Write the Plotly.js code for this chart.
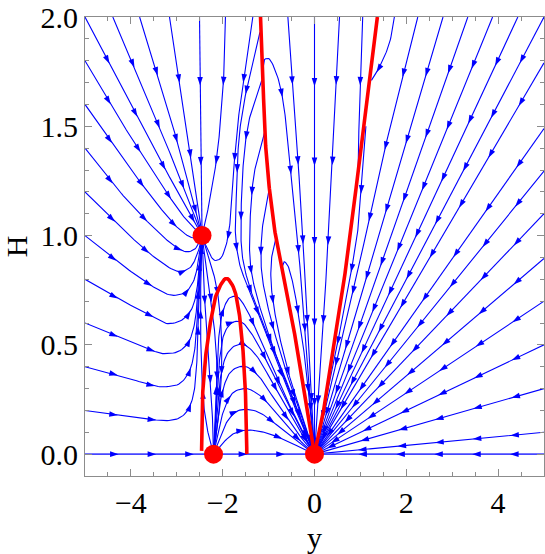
<!DOCTYPE html>
<html><head><meta charset="utf-8">
<script src="https://cdn.plot.ly/plotly-3.0.1.min.js"></script>
<style>html,body{margin:0;padding:0;background:#fff}</style>
</head><body><div id="chart" style="width:545px;height:554px"></div>
<script>
// ---------- axis setup ----------
const xRange = [-5, 5];
const yRange = [-0.1, 2];

// ---------- red curves (y, H) ----------
const redLeft = [[0,0],[-0.16,0.215],[-0.35,0.458],[-0.577,0.70],[-0.805,0.943],[-0.97,1.19],[-1.07,1.43],[-1.13,1.753],[-1.176,2.0]];
const redRight = [[0,0],[0.142,0.134],[0.331,0.377],[0.634,0.781],[0.937,1.268],[1.203,1.705],[1.37,2.0]];
const redArch = [[-2.46,0.015],[-2.455,0.15],[-2.43,0.3],[-2.37,0.45],[-2.27,0.6],[-2.12,0.74],[-1.92,0.804],[-1.77,0.765],[-1.66,0.67],[-1.56,0.48],[-1.5,0.26],[-1.48,0.1],[-1.475,0.0]];
const fixedY = [-2.45, -2.2, 0];
const fixedH = [1.0, 0.0, 0.0];

// ---------- streamlines (in flow direction) ----------
const leftLines = [
 [[-5,2],[-4.285,1.714],[-3.486,1.394],[-2.9,1.17],[-2.45,1.0]],
 [[-5,1.8],[-4.285,1.546],[-3.45,1.272],[-2.9,1.1],[-2.6,1.03],[-2.45,1.0]],
 [[-5,1.6],[-4.285,1.386],[-3.45,1.15],[-2.95,1.03],[-2.65,0.99],[-2.45,1.0]],
 [[-5,1.4],[-4.285,1.211],[-3.45,1.025],[-3.0,0.945],[-2.77,0.926],[-2.6,0.94],[-2.45,1.0]],
 [[-5,1.2],[-4.285,1.051],[-3.45,0.895],[-2.96,0.836],[-2.72,0.852],[-2.58,0.9],[-2.49,0.96],[-2.45,1.0]],
 [[-5,1.0],[-4.285,0.88],[-3.45,0.758],[-3.11,0.727],[-2.82,0.74],[-2.64,0.79],[-2.54,0.87],[-2.45,1.0]],
 [[-5,0.8],[-4.285,0.712],[-3.45,0.621],[-3.23,0.598],[-2.92,0.61],[-2.7,0.655],[-2.58,0.73],[-2.52,0.85],[-2.45,1.0]],
 [[-5,0.6],[-4.285,0.537],[-3.45,0.468],[-3.31,0.46],[-2.96,0.47],[-2.74,0.515],[-2.61,0.6],[-2.55,0.72],[-2.5,0.87],[-2.45,1.0]],
 [[-5,0.4],[-4.285,0.361],[-3.45,0.311],[-3.3,0.308],[-2.96,0.32],[-2.76,0.365],[-2.64,0.44],[-2.57,0.57],[-2.53,0.75],[-2.48,0.9],[-2.45,1.0]],
 [[-5,0.2],[-4.285,0.178],[-3.45,0.156],[-3.25,0.153],[-2.97,0.163],[-2.78,0.195],[-2.65,0.26],[-2.58,0.37],[-2.54,0.55],[-2.51,0.75],[-2.47,0.9],[-2.45,1.0]]
];
const topLines = [
 [[-4.394,2],[-3.704,1.66],[-3.0,1.3],[-2.45,1.0]],
 [[-3.81,2],[-3.159,1.554],[-2.75,1.24],[-2.45,1.0]],
 [[-3.159,2],[-2.686,1.348],[-2.5,1.08],[-2.45,1.0]],
 [[-2.505,2],[-2.47,1.2],[-2.45,1.0]],
 [[-1.94,2],[-1.965,1.775],[-2.107,1.394],[-2.216,1.241],[-2.36,1.08],[-2.45,1.0]],
 [[-1.344,2],[-1.5,1.78],[-1.65,1.55],[-1.743,1.348],[-1.8,1.15],[-1.88,1.0],[-1.96,0.933],[-2.05,0.895],[-2.18,0.887],[-2.325,0.935],[-2.45,1.0]]
];
const archLines = [
 [[-2.45,1.0],[-2.35,0.85],[-2.22,0.65],[-2.13,0.42],[-2.15,0.17],[-2.2,0]],
 [[-2.45,1.0],[-2.3,0.9],[-2.12,0.75],[-2.02,0.5],[-2.07,0.22],[-2.2,0]],
 [[-2.45,1.0],[-2.42,0.8],[-2.32,0.5],[-2.23,0.2],[-2.2,0]],
 [[-2.2,0],[-2.28,0.06],[-2.4,0.2],[-2.47,0.45],[-2.48,0.75],[-2.45,1.0]]
];
const humpLines = [
 [[-2.2,0],[-2.15,0.25],[-2.1,0.5],[-2.0,0.65],[-1.85,0.715],[-1.69,0.72],[-1.5,0.67],[-1.2,0.53],[-0.8,0.34],[-0.35,0.14],[0,0]],
 [[-2.2,0],[-2.14,0.22],[-2.07,0.43],[-1.95,0.56],[-1.78,0.603],[-1.6,0.605],[-1.4,0.56],[-1.05,0.43],[-0.6,0.24],[-0.25,0.09],[0,0]],
 [[-2.2,0],[-2.13,0.18],[-2.04,0.36],[-1.9,0.46],[-1.72,0.497],[-1.53,0.5],[-1.3,0.46],[-0.95,0.34],[-0.5,0.17],[0,0]],
 [[-2.2,0],[-2.12,0.14],[-2.0,0.29],[-1.85,0.37],[-1.67,0.398],[-1.49,0.4],[-1.25,0.365],[-0.9,0.26],[-0.45,0.12],[0,0]],
 [[-2.2,0],[-2.1,0.1],[-1.96,0.21],[-1.78,0.28],[-1.6,0.298],[-1.475,0.3],[-1.2,0.27],[-0.8,0.18],[-0.4,0.08],[0,0]],
 [[-2.2,0],[-2.07,0.07],[-1.9,0.15],[-1.7,0.195],[-1.475,0.205],[-1.2,0.19],[-0.8,0.13],[-0.4,0.06],[0,0]],
 [[-2.2,0],[-2.0,0.05],[-1.75,0.095],[-1.475,0.11],[-1.1,0.1],[-0.7,0.07],[-0.3,0.03],[0,0]]
];
const dLines = [
 [[-1.19,1.93],[-1.45,1.7],[-1.634,1.47],[-1.7,1.2],[-1.72,1.0],[-1.62,0.86],[-1.4,0.74],[-1.0,0.52],[-0.5,0.25],[0,0]],
 [[-1.15,1.71],[-1.4,1.55],[-1.525,1.39],[-1.6,1.1],[-1.58,0.92],[-1.45,0.79],[-1.05,0.56],[-0.52,0.285],[0,0]],
 [[-1.09,1.47],[-1.26,1.34],[-1.344,1.24],[-1.416,0.97],[-1.38,0.84],[-1.2,0.68],[-0.75,0.4],[-0.35,0.19],[0,0]],
 [[-0.99,1.21],[-1.1,1.09],[-1.161,0.97],[-1.15,0.83],[-1.0,0.66],[-0.62,0.38],[-0.26,0.16],[0,0]],
 [[-0.84,0.99],[-0.92,0.92],[-0.95,0.8],[-0.85,0.63],[-0.55,0.36],[-0.22,0.145],[0,0]]
];
const centreLines = [
 [[-1.125,1.76],[-1.09,1.805],[-1.0,1.81],[-0.834,1.744],[-0.69,1.623],[-0.545,1.348],[-0.364,0.97],[-0.2,0.55],[-0.07,0.18],[0,0]],
 [[-0.58,2],[-0.45,1.6],[-0.327,1.24],[-0.2,0.78],[-0.09,0.35],[0,0]],
 [[0,2],[0,1],[0,0]],
 [[0.545,2],[0.45,1.6],[0.363,1.21],[0.22,0.7],[0.08,0.25],[0,0]],
 [[1.05,2],[0.98,1.6],[0.95,1.3]],
 [[-0.7,0.86],[-0.66,0.88],[-0.6,0.87],[-0.48,0.79],[-0.35,0.64],[-0.2,0.42],[-0.07,0.15],[0,0]]
];
const rightLines = [
 [[1.74,2],[1.69,1.93],[1.6,1.86],[1.416,1.771],[1.24,1.71]],
 [[1.12,1.5],[1.04,1.27],[0.944,1.025],[0.55,0.56],[0,0]],
 [[2.25,2],[1.65,1.5],[0.9,0.8],[0,0]],
 [[2.8,2],[0,0]],
 [[3.34,2],[0,0]],
 [[3.88,2],[0,0]],
 [[4.43,2],[0,0]],
 [[5,2],[0,0]],
 [[5,1.79],[0,0]],
 [[5,1.49],[0,0]],
 [[5,1.295],[0,0]],
 [[5,1.1],[0,0]],
 [[5,0.895],[0,0]],
 [[5,0.7],[0,0]],
 [[5,0.5],[0,0]],
 [[5,0.3],[0,0]],
 [[5,0.1],[0,0]]
];
const axisLines = [
 [[-5,0],[-2.2,0]],
 [[-2.2,0],[0,0]],
 [[5,0],[0,0]]
];

// ---------- geometry helpers ----------
const W = 545, Hgt = 554, M = {l:85, r:1, t:17, b:78};
const kx = (W - M.l - M.r) / (xRange[1] - xRange[0]);
const ky = (Hgt - M.t - M.b) / (yRange[1] - yRange[0]);
const toPx = p => [(p[0] - xRange[0]) * kx, (yRange[1] - p[1]) * ky];
const fromPx = q => [q[0] / kx + xRange[0], yRange[1] - q[1] / ky];

function densify(pts) {
  const P = pts.map(toPx);
  const out = [P[0]];
  for (let i = 0; i < P.length - 1; i++) {
    const p1 = P[i], p2 = P[i + 1];
    const p0 = i > 0 ? P[i - 1] : [2 * p1[0] - p2[0], 2 * p1[1] - p2[1]];
    const p3 = i < P.length - 2 ? P[i + 2] : [2 * p2[0] - p1[0], 2 * p2[1] - p1[1]];
    const d = (a, b) => Math.max(Math.pow(Math.hypot(b[0] - a[0], b[1] - a[1]), 0.5), 1e-4);
    const t0 = 0, t1 = t0 + d(p0, p1), t2 = t1 + d(p1, p2), t3 = t2 + d(p2, p3);
    const n = Math.max(2, Math.ceil(Math.hypot(p2[0] - p1[0], p2[1] - p1[1]) / 2));
    for (let k = 1; k <= n; k++) {
      const t = t1 + (t2 - t1) * k / n;
      const L = (a, b, ta, tb) => [(tb - t) / (tb - ta) * a[0] + (t - ta) / (tb - ta) * b[0],
                                   (tb - t) / (tb - ta) * a[1] + (t - ta) / (tb - ta) * b[1]];
      const A1 = L(p0, p1, t0, t1), A2 = L(p1, p2, t1, t2), A3 = L(p2, p3, t2, t3);
      const B1 = L(A1, A2, t0, t2), B2 = L(A2, A3, t1, t3);
      out.push(L(B1, B2, t1, t2));
    }
  }
  return out;
}

function arrowsOn(P, offset, step, sx, sy) {
  let total = 0;
  for (let i = 1; i < P.length; i++) total += Math.hypot(P[i][0] - P[i - 1][0], P[i][1] - P[i - 1][1]);
  const res = [];
  let acc = 0, walked = 0, next = offset;
  for (let i = 1; i < P.length; i++) {
    const dx = P[i][0] - P[i - 1][0], dy = P[i][1] - P[i - 1][1];
    acc += Math.hypot(dx / sx, dy / sy);
    walked += Math.hypot(dx, dy);
    if (acc >= next) {
      if (total - walked > 9) {
        const j0 = Math.max(0, i - 2), j1 = Math.min(P.length - 1, i + 2);
        const ddx = P[j1][0] - P[j0][0], ddy = P[j1][1] - P[j0][1];
        res.push({p: P[i], a: Math.atan2(ddx, -ddy) * 180 / Math.PI});
      }
      next += step;
    }
  }
  return res;
}

function buildLines(groups) {
  const xs = [], ys = [], ax = [], ay = [], aa = [];
  groups.forEach(line => {
    const P = densify(line);
    P.forEach(q => { const d = fromPx(q); xs.push(d[0]); ys.push(d[1]); });
    xs.push(null); ys.push(null);
    arrowsOn(P, 0.85, 1.0, 38, 80).forEach(o => {
      const d = fromPx(o.p); ax.push(d[0]); ay.push(d[1]); aa.push(o.a);
    });
  });
  return {xs, ys, ax, ay, aa};
}

const blue = buildLines([].concat(leftLines, topLines, archLines, humpLines, dLines, centreLines, rightLines));
const axisB = buildLines(axisLines);

function redTrace(pts) {
  const P = densify(pts).map(fromPx);
  return {x: P.map(p => p[0]), y: P.map(p => p[1]), mode: 'lines', type: 'scatter',
          line: {color: '#ff0000', width: 3.6}, hoverinfo: 'skip'};
}

const BLUE = '#0000ff';
const traces = [
  {x: blue.xs, y: blue.ys, mode: 'lines', type: 'scatter', line: {color: BLUE, width: 1.1}, hoverinfo: 'skip', connectgaps: false},
  {x: axisB.xs, y: axisB.ys, mode: 'lines', type: 'scatter', line: {color: '#4646ff', width: 1.8}, hoverinfo: 'skip', cliponaxis: false},
  {x: blue.ax.concat(axisB.ax), y: blue.ay.concat(axisB.ay), mode: 'markers', type: 'scatter',
   marker: {symbol: 'arrow', size: 9, color: BLUE, angle: blue.aa.concat(axisB.aa), line: {width: 0}}, hoverinfo: 'skip'},
  redTrace(redLeft), redTrace(redRight), redTrace(redArch),
  {x: fixedY, y: fixedH, mode: 'markers', type: 'scatter', marker: {size: 19, color: '#ff0000'}, cliponaxis: false, hoverinfo: 'skip'}
];

const FONT = 'Liberation Serif, Times New Roman, serif';
const axisCommon = {
  ticks: 'inside', ticklen: 7, tickwidth: 1, tickcolor: '#8c8c8c',
  showline: true, linecolor: '#8c8c8c', linewidth: 1, mirror: 'ticks',
  showgrid: false, zeroline: false,
  tickfont: {family: FONT, size: 30, color: '#000'}
};
const layout = {
  width: W, height: Hgt, margin: M, showlegend: false,
  paper_bgcolor: '#fff', plot_bgcolor: '#fff',
  xaxis: Object.assign({}, axisCommon, {
    range: xRange, tick0: 0, dtick: 2,
    minor: {dtick: 0.5, tick0: 0, ticks: 'inside', ticklen: 4, tickcolor: '#8c8c8c'},
    title: {text: 'y', font: {family: FONT, size: 30, color: '#000'}, standoff: 10}
  }),
  yaxis: Object.assign({}, axisCommon, {
    range: yRange, tick0: 0, dtick: 0.5, tickformat: '.1f',
    minor: {dtick: 0.1, tick0: 0, ticks: 'inside', ticklen: 4, tickcolor: '#8c8c8c'},
    title: {text: 'H', font: {family: FONT, size: 30, color: '#000'}, standoff: 14}
  })
};
Plotly.newPlot('chart', traces, layout, {staticPlot: true, displayModeBar: false});
</script></body></html>
